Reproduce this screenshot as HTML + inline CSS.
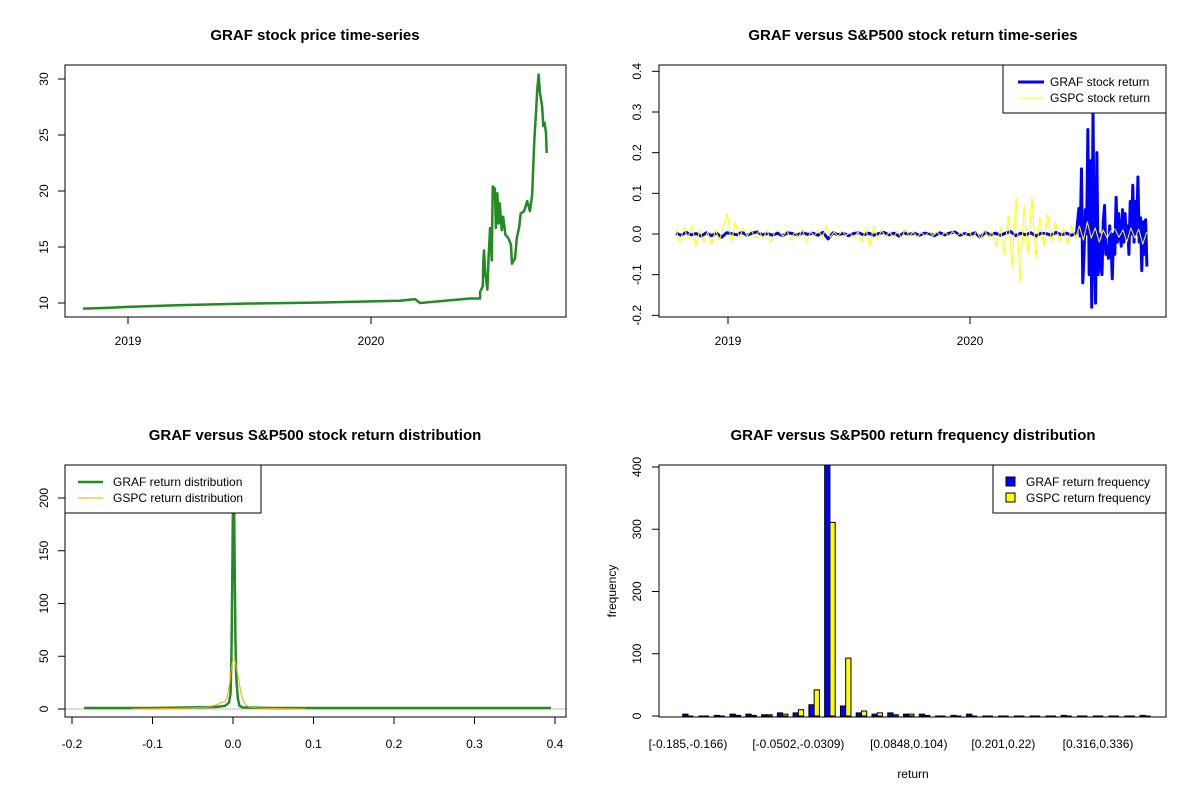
<!DOCTYPE html>
<html><head><meta charset="utf-8">
<style>
html,body{margin:0;padding:0;background:#fff;}
svg{display:block;font-family:"Liberation Sans",Arial,sans-serif;}
</style></head>
<body>
<svg id="c" width="1200" height="800" viewBox="0 0 1200 800" xmlns="http://www.w3.org/2000/svg"></svg>
<script>
// ---- data ----
const priceYears = [2018.815,2018.9,2019.0,2019.2,2019.5,2019.8,2020.0,2020.119,2020.181,2020.202,2020.407,2020.449,2020.449,2020.460,2020.462,2020.465,2020.470,2020.479,2020.484,2020.490,2020.497,2020.501,2020.510,2020.514,2020.520,2020.525,2020.530,2020.538,2020.544,2020.553,2020.565,2020.576,2020.580,2020.593,2020.600,2020.610,2020.616,2020.630,2020.643,2020.654,2020.663,2020.668,2020.672,2020.679,2020.684,2020.690,2020.695,2020.704,2020.709,2020.714,2020.720,2020.723];
const prices = [9.5,9.55,9.65,9.8,9.95,10.05,10.15,10.2,10.35,10.0,10.4,10.4,11.0,11.5,13.6,14.7,12.7,11.2,14.1,16.7,13.8,20.4,20.2,16.7,19.8,17.1,18.9,16.5,17.7,16.1,15.8,15.2,13.5,14.0,15.8,16.8,18.0,18.2,19.1,18.2,19.6,22.3,24.5,27.0,29.0,30.4,28.8,27.6,25.8,26.1,25.2,23.4];
const priceTicks = [10,15,20,25,30];
const yearTicks = [2019,2020];

const gspcReturns = [0.01,-0.02,0.015,-0.01,0.02,-0.03,0.01,-0.02,0.005,-0.025,0.01,-0.015,0.02,
0.05,-0.02,0.03,-0.01,0.015,-0.005,0.01,-0.01,0.008,-0.012,0.01,-0.02,0.005,
0.008,-0.006,0.01,-0.015,0.005,-0.008,0.012,-0.02,0.006,-0.005,0.01,-0.01,0.02,-0.008,0.005,-0.006,0.008,-0.004,0.003,-0.01,0.006,-0.02,0.015,-0.03,0.02,-0.012,0.01,-0.008,0.006,-0.01,
0.008,-0.01,0.012,-0.006,0.005,-0.008,0.004,-0.005,0.006,-0.004,0.005,-0.006,0.004,-0.005,0.006,-0.004,0.003,-0.005,0.008,-0.01,0.007,-0.012,0.01,-0.008,0.005,
-0.03,0.015,-0.05,0.045,-0.08,0.09,-0.12,0.07,-0.05,0.09,-0.06,0.04,-0.03,0.05,-0.02,
0.03,-0.02,0.015,-0.025,0.02,-0.01,0.02,-0.015,0.03,-0.01,0.015,-0.02,0.01,-0.01,0.008,0.012,-0.008,0.01,-0.02,0.015,-0.01,0.012,-0.025,0.005];
const gspcStart = 2018.785, gspcEnd = 2020.73;
const grafReturnsCalm = [0.002,-0.003,0.004,-0.002,0.001,-0.005,0.003,-0.004,0.002,-0.008,0.003,0.001,-0.002,0.004,-0.003,0.002,0.005,-0.002,0.001,-0.003,0.002,-0.004,0.003,0.001,-0.002,0.003,-0.001,0.002,-0.003,0.004,-0.012,0.003,-0.002,0.002,-0.004,0.001,0.003,-0.002,0.002,-0.003,0.001,0.004,-0.002,0.002,-0.005,0.003,-0.001,0.002,-0.003,0.002,0.001,-0.004,0.003,-0.002,0.002,0.005,-0.003,0.001,-0.002,0.003,-0.008,0.004,-0.002,0.002,-0.003,0.002,0.006,-0.004,0.002,-0.002,0.003,-0.005,0.002,0.001,-0.003,0.004,-0.002,0.002,-0.003,0.002];
const calmStart = 2018.785, calmEnd = 2020.44;
const grafReturnsVolatile = [0.063,-0.005,0.16,-0.12,-0.05,0.06,0.0,0.257,-0.1,0.18,-0.18,0.3,-0.05,-0.17,0.2,-0.1,0.0,-0.08,-0.1,0.03,0.07,-0.05,-0.03,-0.06,0.02,-0.02,-0.11,0.0,-0.05,0.09,-0.02,0.05,0.0,-0.03,0.06,-0.02,0.05,-0.01,0.02,-0.05,0.08,0.0,0.12,-0.02,0.08,0.0,0.14,-0.02,0.04,-0.09,0.03,-0.05,0.035,-0.08];
const volStart = 2020.45, volEnd = 2020.731;
const returnTicks = [-0.2,-0.1,0.0,0.1,0.2,0.3,0.4];

const grafDensX = [-0.185,-0.15,-0.1,-0.05,-0.02,-0.01,-0.005,-0.003,-0.002,-0.001,0,0.001,0.002,0.003,0.004,0.006,0.008,0.012,0.05,0.1,0.2,0.3,0.395];
const grafDens = [1,1,1,1.5,2,3,6,15,48,115,200,230,140,68,30,10,3,1.5,1,1,1,1,1];
const gspcDensX = [-0.125,-0.08,-0.05,-0.03,-0.02,-0.015,-0.01,-0.007,-0.004,-0.002,0,0.002,0.004,0.007,0.01,0.013,0.016,0.02,0.03,0.05,0.09];
const gspcDens = [0,0.5,1,2,4,6,7,12,25,40,47,47,40,28,15,7,4,2,1,0.5,0];
const densXTicks = [-0.2,-0.1,0.0,0.1,0.2,0.3,0.4];
const densYTicks = [0,50,100,150,200];

const binLabels = ["[-0.185,-0.166)","[-0.0502,-0.0309)","[0.0848,0.104)","[0.201,0.22)","[0.316,0.336)"];
const binLabelIdx = [0,7,14,20,26];
const grafFreq = [3,0,1,3,3,2,5,5,18,405,16,5,3,5,3,3,0,1,3,0,0,0,0,0,1,0,0,0,0,1];
const gspcFreq = [0,0,0,1,1,2,3,10,42,311,93,8,5,2,3,1,0,0,0,0,0,0,0,0,0,0,0,0,0,0];
const freqTicks = [0,100,200,300,400];

// ---- helpers ----
const svg = document.getElementById('c');
const NS = 'http://www.w3.org/2000/svg';
function mk(tag, attrs, parent){
  const e = document.createElementNS(NS, tag);
  for (const k in attrs) e.setAttribute(k, attrs[k]);
  (parent||svg).appendChild(e);
  return e;
}
function txt(s, x, y, size, opts){
  opts = opts||{};
  const e = mk('text', {x:x, y:y, 'font-size':size, 'text-anchor':opts.anchor||'middle', fill:'#000'});
  if (opts.bold) e.setAttribute('font-weight','bold');
  if (opts.rot) e.setAttribute('transform','rotate(-90 '+x+' '+y+')');
  e.textContent = s;
  return e;
}
function line(x1,y1,x2,y2,color,w){
  return mk('line',{x1:x1,y1:y1,x2:x2,y2:y2,stroke:color||'#000','stroke-width':w||1});
}
function box(x,y,w,h){
  return mk('rect',{x:x,y:y,width:w,height:h,fill:'none',stroke:'#000','stroke-width':1});
}
function poly(xs, ys, fx, fy, color, w){
  let d='';
  for(let i=0;i<xs.length;i++) d += (i?'L':'M')+fx(xs[i]).toFixed(2)+','+fy(ys[i]).toFixed(2);
  return mk('path',{d:d,fill:'none',stroke:color,'stroke-width':w,'stroke-linejoin':'round'});
}
function evenXs(n, a, b){ const r=[]; for(let i=0;i<n;i++) r.push(a+(b-a)*i/(n-1)); return r; }

// ===== Panel 1: price =====
{
  const fx = y => 128 + (y-2019)*243;
  const fy = v => 303 - (v-10)*11.2;
  const t = txt('GRAF stock price time-series', 315, 40, 15, {bold:true});
   
  const b = box(65,65,501,252);
   
  priceTicks.forEach(v=>{
    const tk = line(58,fy(v),65,fy(v));
     
    const l = txt(String(v), 48, fy(v), 12, {rot:true});
     
  });
  yearTicks.forEach(v=>{
    const tk = line(fx(v),317,fx(v),324);
     
    const l = txt(String(v), fx(v), 345, 12);
     
  });
  const p = poly(priceYears, prices, fx, fy, '#228B22', 2.5);
   
}

// ===== Panel 2: returns =====
{
  const fx = y => 728 + (y-2019)*242;
  const fy = v => 234 - v*406.7;
  const t = txt('GRAF versus S&P500 stock return time-series', 913, 40, 15, {bold:true});
   
  returnTicks.forEach(v=>{
    const tk = line(652,fy(v),659,fy(v));
     
    const l = txt(v.toFixed(1), 641, fy(v), 12, {rot:true});
     
  });
  yearTicks.forEach(v=>{
    const tk = line(fx(v),317,fx(v),324);
     
    const l = txt(String(v), fx(v), 345, 12);
     
  });
  const calmX = evenXs(grafReturnsCalm.length, calmStart, calmEnd);
  const volX = evenXs(grafReturnsVolatile.length, volStart, volEnd);
  const gx = calmX.concat(volX), gy = grafReturnsCalm.concat(grafReturnsVolatile);
  const bl = poly(gx, gy, fx, fy, '#0000FF', 3);
   
  const yl = poly(evenXs(gspcReturns.length, gspcStart, gspcEnd), gspcReturns, fx, fy, '#FFFF00', 1);
   
  const b = box(659,65,507,252);
   
  const lg = mk('rect',{x:1003,y:65,width:163,height:48,fill:'#fff',stroke:'#000','stroke-width':1});
   
  const l1 = line(1018,82,1044,82,'#0000FF',3);
   
  const t1 = txt('GRAF stock return', 1050, 86, 12, {anchor:'start'});
   
  const l2 = line(1018,98,1044,98,'#FFFF00',1);
   
  const t2 = txt('GSPC stock return', 1050, 102, 12, {anchor:'start'});
   
}

// ===== Panel 3: density =====
{
  const fx = v => 233 + v*805;
  const fy = v => 709 - v*1.055;
  const t = txt('GRAF versus S&P500 stock return distribution', 315, 440, 15, {bold:true});
   
  densYTicks.forEach(v=>{
    const tk = line(58,fy(v),65,fy(v));
     
    const l = txt(String(v), 48, fy(v), 12, {rot:true});
     
  });
  densXTicks.forEach(v=>{
    const tk = line(fx(v),717,fx(v),724);
     
    const l = txt(v.toFixed(1), fx(v), 748, 12);
     
  });
  const z = line(65,fy(0),566,fy(0),'#BEBEBE',1);
   
  const g = poly(grafDensX, grafDens, fx, fy, '#228B22', 2.5);
   
  const o = poly(gspcDensX, gspcDens, fx, fy, '#FFA500', 1);
   
  const b = box(65,465,501,252);
   
  const lg = mk('rect',{x:65,y:465,width:196,height:48,fill:'#fff',stroke:'#000','stroke-width':1});
   
  const l1 = line(78,482,103,482,'#228B22',2.5);
   
  const t1 = txt('GRAF return distribution', 113, 486, 12, {anchor:'start'});
   
  const l2 = line(78,498,103,498,'#FFA500',1);
   
  const t2 = txt('GSPC return distribution', 113, 502, 12, {anchor:'start'});
   
}

// ===== Panel 4: frequency bars =====
{
  const fy = v => 716 - v*0.6225;
  const center = i => 688 + i*15.77;
  const bw = 5.26;
  const t = txt('GRAF versus S&P500 return frequency distribution', 913, 440, 15, {bold:true});
   
  const clip = mk('clipPath',{id:'clipFreq'});
  mk('rect',{x:659,y:465,width:507,height:252}, clip);
  const gBars = mk('g',{'clip-path':'url(#clipFreq)'});
   
  function bar(x, v, color){
    const y0 = fy(0), y1 = fy(v);
    const p = mk('path',{d:'M'+x+','+y0+'V'+y1+'H'+(x+bw)+'V'+y0+'Z',fill:color,stroke:'#000','stroke-width':1}, gBars);
    return p;
  }
  grafFreq.forEach((v,i)=>{
    const r = bar(center(i)-bw, v, '#0000FF');
     
  });
  gspcFreq.forEach((v,i)=>{
    const r = bar(center(i), v, '#FFFF00');
     
  });
  freqTicks.forEach(v=>{
    const tk = line(652,fy(v),659,fy(v));
     
    const l = txt(String(v), 641, fy(v), 12, {rot:true});
     
  });
  binLabels.forEach((s,k)=>{
    const l = txt(s, center(binLabelIdx[k]), 748, 12);
     
  });
  const xt = txt('return', 913, 778, 12);
   
  const yt = txt('frequency', 616, 591, 12, {rot:true});
   
  const b = box(659,465,507,252);
   
  const lg = mk('rect',{x:993,y:465,width:173,height:48,fill:'#fff',stroke:'#000','stroke-width':1});
   
  const s1 = mk('rect',{x:1006,y:477,width:9,height:9,fill:'#0000FF',stroke:'#000','stroke-width':1});
   
  const t1 = txt('GRAF return frequency', 1026, 486, 12, {anchor:'start'});
   
  const s2 = mk('rect',{x:1006,y:493,width:9,height:9,fill:'#FFFF00',stroke:'#000','stroke-width':1});
   
  const t2 = txt('GSPC return frequency', 1026, 502, 12, {anchor:'start'});
   
}
</script>
</body></html>
